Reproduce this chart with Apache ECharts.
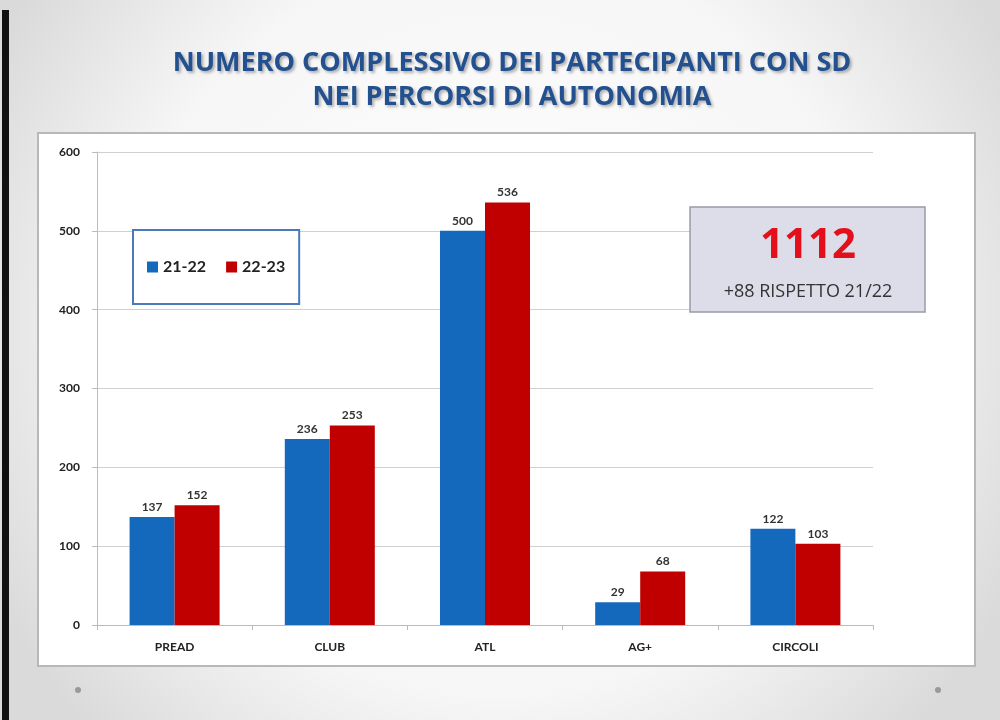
<!DOCTYPE html>
<html>
<head>
<meta charset="utf-8">
<script src="https://cdn.jsdelivr.net/npm/echarts@6/dist/echarts.min.js"></script>
<style>
  html, body { margin: 0; padding: 0; }
  #chart { width: 1000px; height: 720px; }
</style>
</head>
<body>
<div id="chart"></div>
<script>
// chart data
const categories = ['PREAD', 'CLUB', 'ATL', 'AG+', 'CIRCOLI'];
const seriesNames = ['21-22', '22-23'];
const values2122 = [137, 236, 500, 29, 122];
const values2223 = [152, 253, 536, 68, 103];
const yTicks = [0, 100, 200, 300, 400, 500, 600];
const totalText = '1112';
const deltaText = '+88 RISPETTO 21/22';

const chart = echarts.init(document.getElementById('chart'));

const labelStyle = {
  show: true,
  position: 'top',
  distance: 4,
  fontFamily: 'Lato',
  fontWeight: 'bold',
  fontSize: 12,
  color: '#333'
};

const option = {
  backgroundColor: {
    type: 'radial', x: 0.5, y: 0.45, r: 0.8,
    colorStops: [
      { offset: 0, color: '#ffffff' },
      { offset: 0.65, color: '#f6f6f6' },
      { offset: 1, color: '#dadada' }
    ]
  },
  animation: false,
  graphic: [
    // left dark stripe
    { type: 'rect', z: -10, shape: { x: 2, y: 10, width: 7, height: 710 }, style: { fill: '#111' } },
    // white chart panel
    {
      type: 'rect', z: -10,
      shape: { x: 38, y: 133, width: 937, height: 533 },
      style: { fill: '#fff', stroke: '#b8b8b8', lineWidth: 2 }
    },
    // title
    {
      type: 'text', x: 512, y: 46,
      style: {
        text: 'NUMERO COMPLESSIVO DEI PARTECIPANTI CON SD\nNEI PERCORSI DI AUTONOMIA',
        align: 'center',
        font: 'bold 27px "Open Sans"',
        lineHeight: 34,
        fill: '#23508f',
        textShadowColor: 'rgba(0,0,0,0.3)',
        textShadowBlur: 3,
        textShadowOffsetX: 2,
        textShadowOffsetY: 2
      }
    },
    // summary box
    {
      type: 'rect', z: 5,
      shape: { x: 690, y: 207, width: 235, height: 105 },
      style: { fill: '#dcdde9', stroke: '#9a9aa6', lineWidth: 1.5 }
    },
    {
      type: 'text', z: 6, x: 808, y: 246,
      style: {
        text: totalText, align: 'center', verticalAlign: 'middle',
        font: 'bold 42px "Open Sans"', fill: '#e3101b'
      }
    },
    {
      type: 'text', z: 6, x: 808, y: 292,
      style: {
        text: deltaText, align: 'center', verticalAlign: 'middle',
        font: '18px "Open Sans"', fill: '#333'
      }
    },
    // slide dots
    { type: 'circle', shape: { cx: 78, cy: 690, r: 3 }, style: { fill: '#999' } },
    { type: 'circle', shape: { cx: 938, cy: 690, r: 3 }, style: { fill: '#999' } }
  ],
  legend: {
    data: seriesNames,
    left: 133,
    top: 230,
    orient: 'horizontal',
    itemWidth: 11,
    itemHeight: 11,
    itemGap: 20,
    padding: [29, 14, 29, 14],
    borderColor: '#4a7ab8',
    borderWidth: 2,
    backgroundColor: '#fff',
    icon: 'rect',
    textStyle: { fontFamily: 'Lato', fontWeight: 'bold', fontSize: 16, color: '#222' }
  },
  grid: { left: 97, right: 127, top: 152, bottom: 95 },
  xAxis: {
    type: 'category',
    data: categories,
    axisLine: { lineStyle: { color: '#bbb' } },
    axisTick: { show: true, length: 5, lineStyle: { color: '#bbb' } },
    axisLabel: {
      margin: 16, fontFamily: 'Lato', fontWeight: 'bold', fontSize: 12, color: '#222'
    }
  },
  yAxis: {
    type: 'value',
    min: yTicks[0],
    max: yTicks[yTicks.length - 1],
    interval: 100,
    axisLine: { show: true, lineStyle: { color: '#bbb' } },
    axisTick: { show: true, length: 5, lineStyle: { color: '#bbb' } },
    axisLabel: { margin: 17, fontFamily: 'Lato', fontWeight: 'bold', fontSize: 12, color: '#222' },
    splitLine: { lineStyle: { color: '#d0d0d0' } }
  },
  series: [
    {
      name: seriesNames[0], type: 'bar', data: values2122,
      barGap: '0%', barCategoryGap: '42%',
      itemStyle: { color: '#1469bd' },
      label: labelStyle
    },
    {
      name: seriesNames[1], type: 'bar', data: values2223,
      itemStyle: { color: '#c00000' },
      label: labelStyle
    }
  ]
};

chart.setOption(option);
</script>
</body>
</html>
